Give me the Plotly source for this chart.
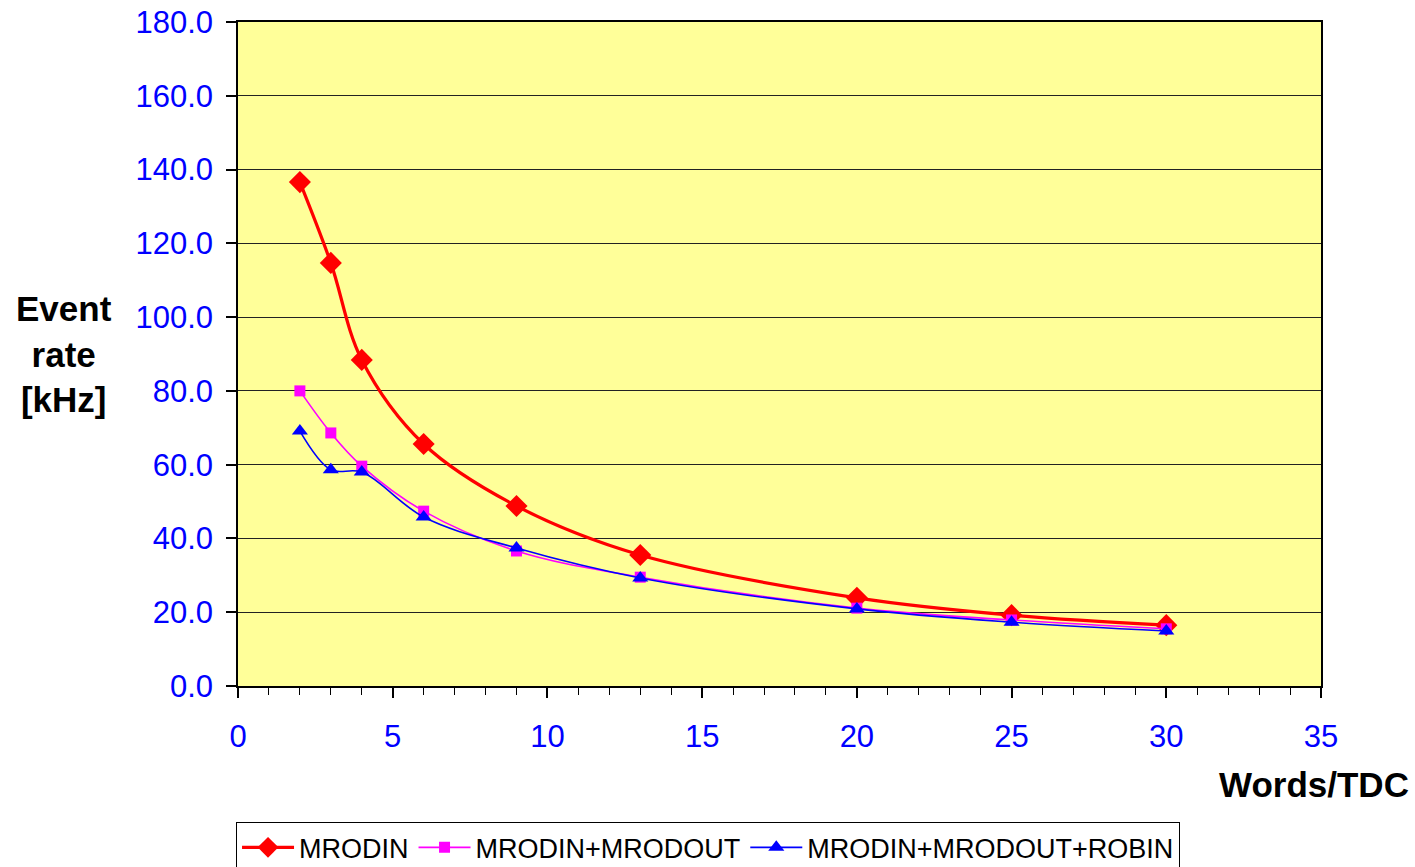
import plotly.graph_objects as go

words_per_tdc = [2, 3, 4, 6, 9, 13, 20, 25, 30]
mrodin = [136.6, 114.7, 88.4, 65.6, 48.8, 35.5, 23.9, 19.2, 16.5]
mrodin_mrodout = [80.0, 68.6, 59.6, 47.4, 36.6, 29.5, 21.1, 17.9, 15.5]
mrodin_mrodout_robin = [69.1, 58.6, 58.0, 45.8, 37.4, 29.3, 20.9, 17.3, 14.9]

y_ticks = [0, 20, 40, 60, 80, 100, 120, 140, 160, 180]
y_tick_labels = [f"{v:.1f}" for v in y_ticks]
x_ticks = [0, 5, 10, 15, 20, 25, 30, 35]

FONT = "Liberation Sans, Arial, sans-serif"

fig = go.Figure()
fig.add_trace(go.Scatter(
    x=words_per_tdc, y=mrodin, name="MRODIN", mode="lines+markers",
    line=dict(color="#FF0000", width=3.2, shape="spline", smoothing=1),
    marker=dict(symbol="diamond", size=17, color="#FF0000"),
))
fig.add_trace(go.Scatter(
    x=words_per_tdc, y=mrodin_mrodout, name="MRODIN+MRODOUT", mode="lines+markers",
    line=dict(color="#FF00FF", width=1.6, shape="spline", smoothing=1),
    marker=dict(symbol="square", size=11, color="#FF00FF"),
))
fig.add_trace(go.Scatter(
    x=words_per_tdc, y=mrodin_mrodout_robin, name="MRODIN+MRODOUT+ROBIN", mode="lines+markers",
    line=dict(color="#0000FF", width=1.6, shape="spline", smoothing=1),
    marker=dict(symbol="triangle-up", size=14, color="#0000FF"),
))

fig.update_layout(
    template="none",
    width=1415, height=867,
    margin=dict(l=238, r=94, t=22, b=181, autoexpand=False),
    paper_bgcolor="white",
    plot_bgcolor="#FFFF99",
    font=dict(family=FONT, color="black"),
    showlegend=True,
    legend=dict(
        orientation="h", x=-0.002, xanchor="left", y=-0.205, yanchor="top",
        bordercolor="black", borderwidth=1.2, bgcolor="white",
        font=dict(family=FONT, size=27, color="black"),
        itemwidth=52, tracegroupgap=0,
    ),
    xaxis=dict(
        range=[0, 35], tickvals=x_ticks, ticktext=[str(v) for v in x_ticks],
        showgrid=False, zeroline=False, automargin=False,
        showline=True, linecolor="black", linewidth=1.5, mirror=True,
        ticks="outside", ticklen=10, tickcolor="black", tickwidth=1.5,
        minor=dict(dtick=1, ticks="outside", ticklen=7, tickcolor="black", tickwidth=1),
        tickfont=dict(family=FONT, size=31, color="#0000FF"),
        ticklabelstandoff=12, ticklabeloverflow="allow",
    ),
    yaxis=dict(
        range=[0, 180], tickvals=y_ticks, ticktext=y_tick_labels,
        showgrid=True, gridcolor="#222222", gridwidth=1.2, zeroline=False, automargin=False,
        showline=True, linecolor="black", linewidth=1.5, mirror=True,
        ticks="outside", ticklen=10, tickcolor="black", tickwidth=1.5,
        tickfont=dict(family=FONT, size=31, color="#0000FF"),
        ticklabelstandoff=7, ticklabeloverflow="allow",
    ),
    annotations=[
        dict(text="<b>Event<br>rate<br>[kHz]</b>", xref="paper", yref="paper",
             x=-0.161, y=0.5, xanchor="center", yanchor="middle", showarrow=False,
             align="center", font=dict(family=FONT, size=35, color="black")),
        dict(text="<b>Words/TDC</b>", xref="paper", yref="paper",
             x=1.083, y=-0.148, xanchor="right", yanchor="middle", showarrow=False,
             font=dict(family=FONT, size=35, color="black")),
    ],
)

fig.write_html(
    "out.html",
    config={"displayModeBar": False},
    post_script="document.body.style.margin='0';document.body.style.overflow='hidden';",
)
